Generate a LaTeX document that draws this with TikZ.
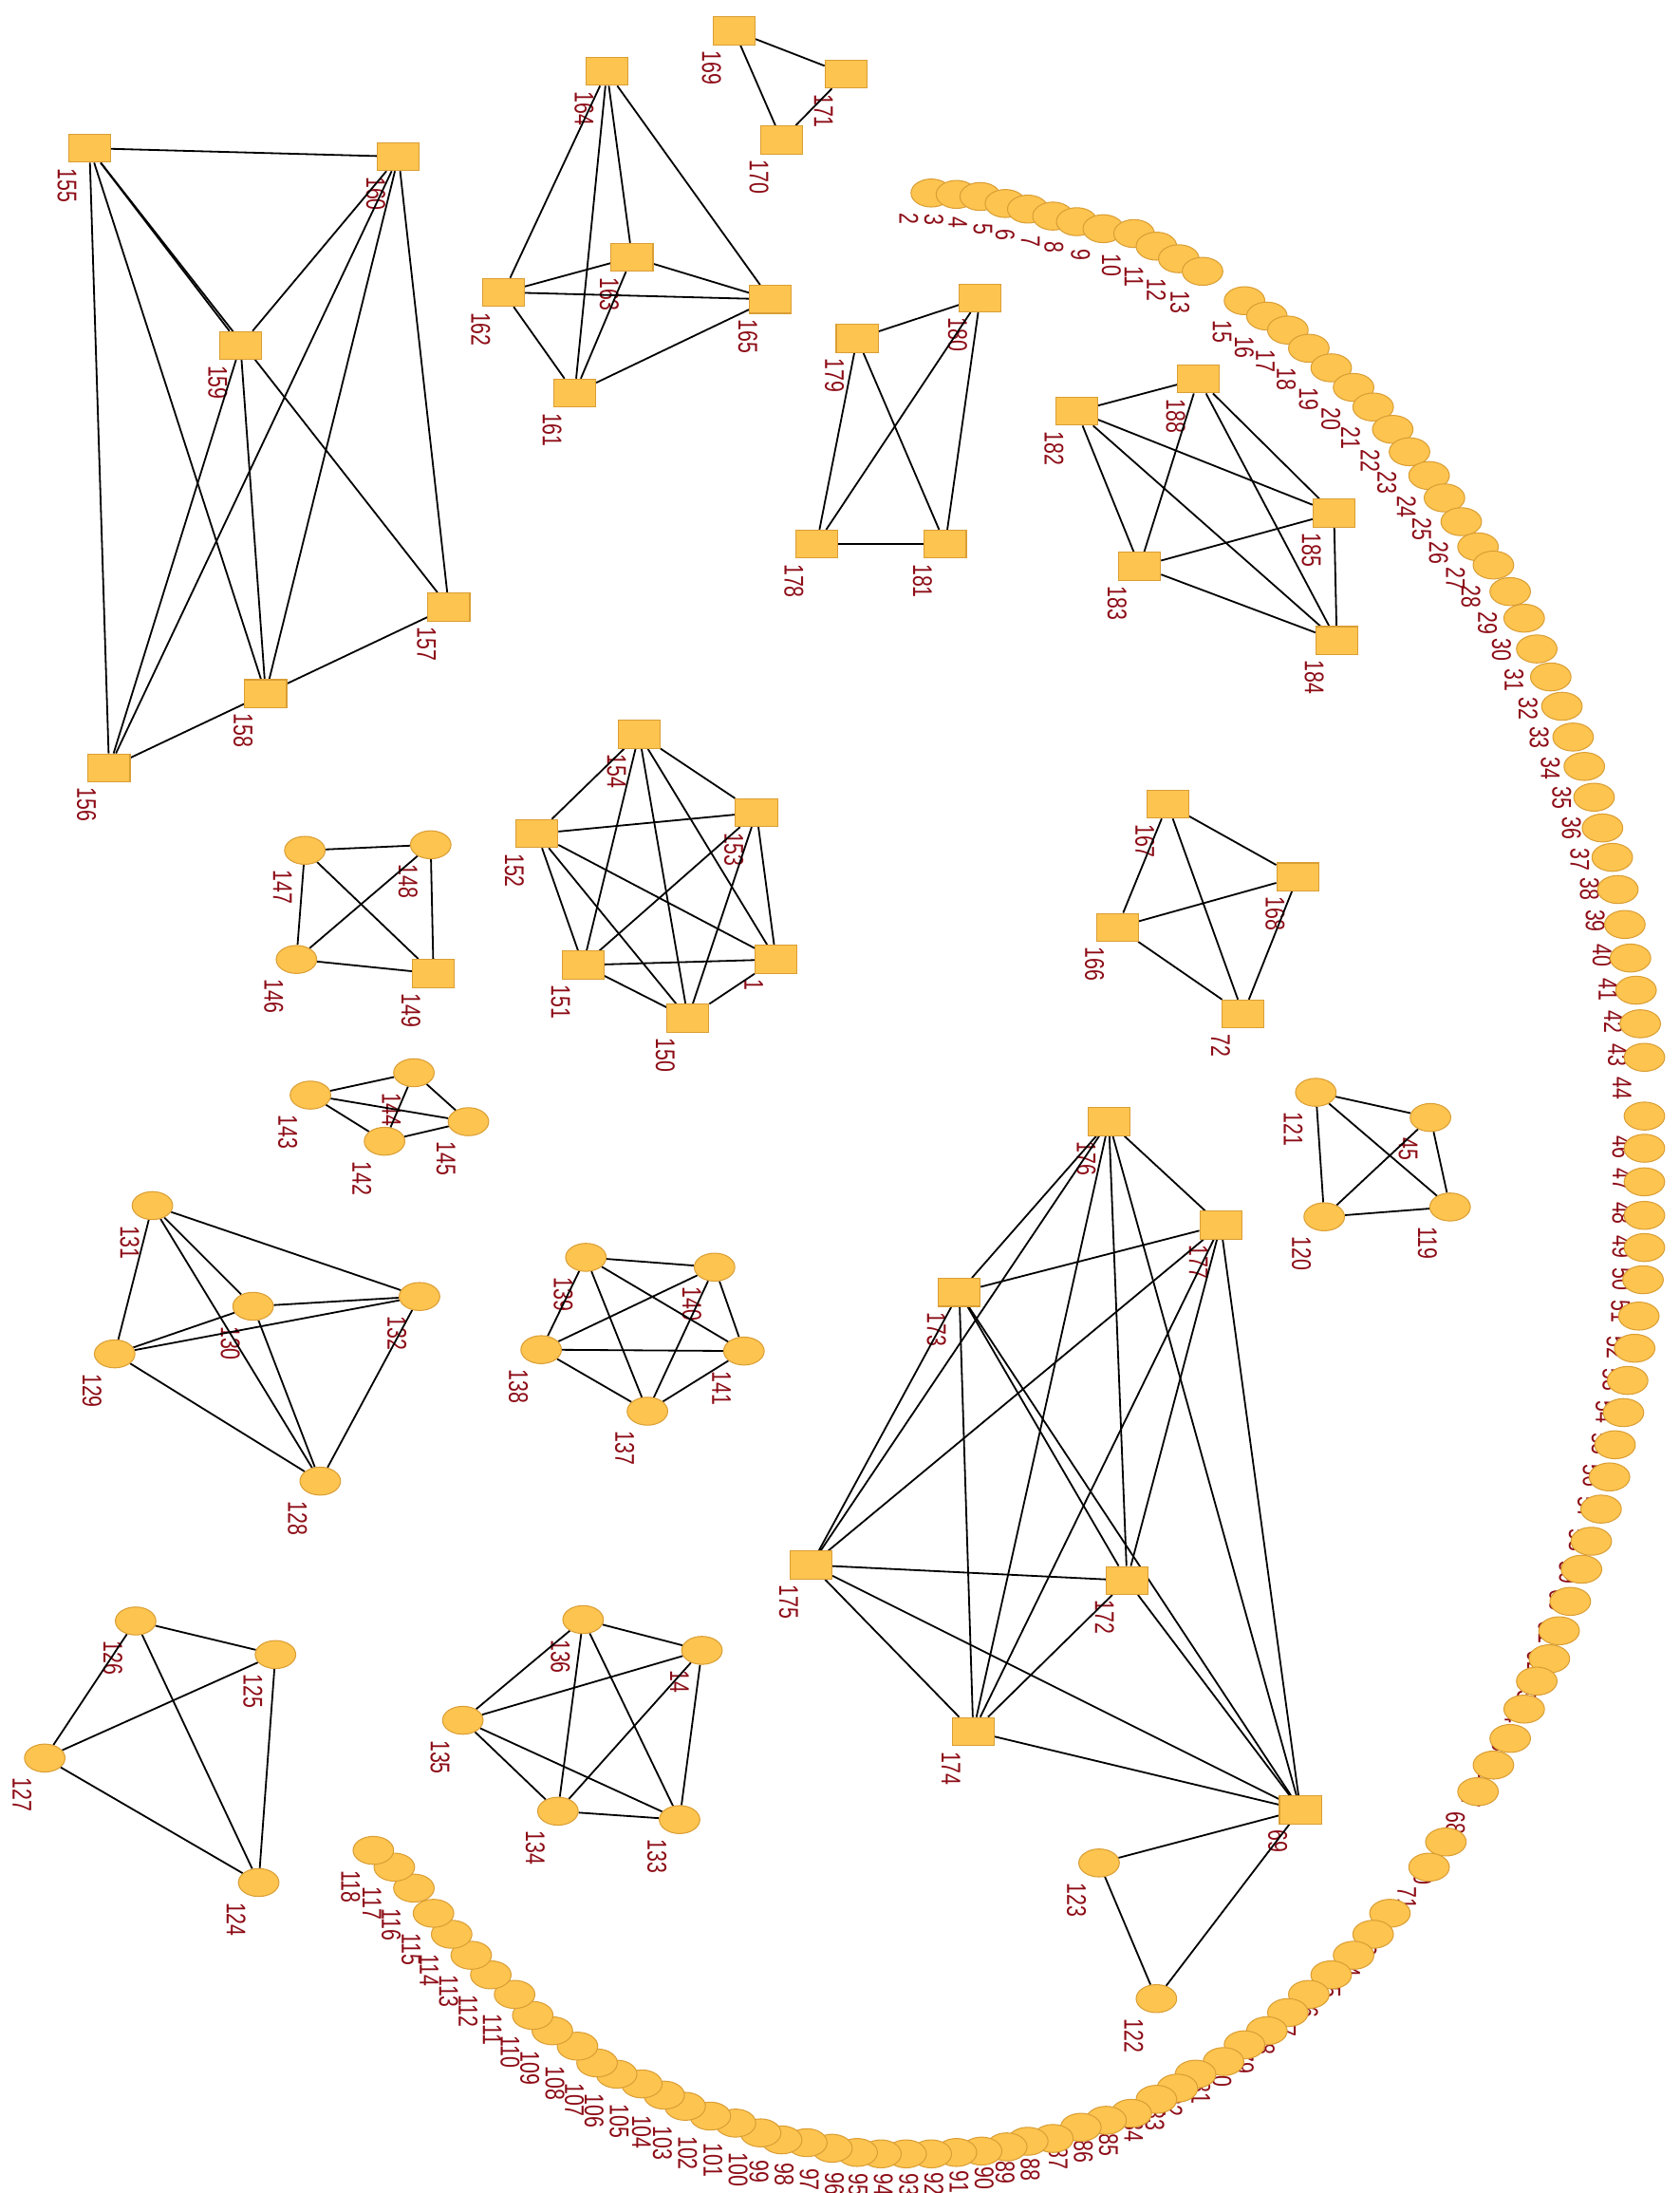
\documentclass[tikz,border=0pt]{standalone}
\usepackage{fontspec}
\usepackage{tikz,xcolor}
\usetikzlibrary{shapes.geometric}
\newfontfamily\labfont[FakeStretch=0.75]{Liberation Sans}
\definecolor{nodefill}{RGB}{253,196,80}
\definecolor{nodeline}{RGB}{218,158,52}
\definecolor{labred}{RGB}{140,12,22}
\pgfdeclarelayer{lab}
\pgfdeclarelayer{edges}
\pgfsetlayers{lab,edges,main}
\tikzset{
  sq/.style={rectangle,draw=nodeline,fill=nodefill,minimum width=6mm,minimum height=4mm,inner sep=0pt},
  oval/.style={ellipse,draw=nodeline,fill=nodefill,minimum width=5.8mm,minimum height=4mm,inner sep=0pt},
  lab/.style={rotate=-90,anchor=north west,inner sep=0pt,text=labred,font=\labfont\fontsize{11}{11}\selectfont},
  link/.style={line width=0.7pt}
}
\NewDocumentCommand\vx{mmmm}{%
  \node[#4] (n#1) at (#2,#3) {};
  \begin{pgfonlayer}{lab}\node[lab] at ([shift={(-9,14)}]n#1.center) {#1};\end{pgfonlayer}}

\begin{document}
\begin{tikzpicture}[x=0.02cm,y=-0.02cm]
        \useasboundingbox (0,0) rectangle (1201,1568);
        \vx{155}{64}{106}{sq} \vx{160}{285}{112}{sq} \vx{159}{172}{247}{sq}
        \vx{157}{321}{434}{sq} \vx{158}{190}{496}{sq} \vx{156}{78}{549}{sq}
        \vx{164}{434}{51}{sq} \vx{163}{452}{184}{sq} \vx{162}{360}{209}{sq}
        \vx{165}{551}{214}{sq} \vx{161}{411}{281}{sq}
        \vx{169}{525}{22}{sq} \vx{171}{605}{53}{sq} \vx{170}{559}{100}{sq}
        \vx{179}{613}{242}{sq} \vx{180}{701}{213}{sq} \vx{178}{584}{389}{sq} \vx{181}{676}{389}{sq}
        \vx{182}{770}{294}{sq} \vx{188}{857}{271}{sq} \vx{185}{954}{367}{sq}
        \vx{183}{815}{405}{sq} \vx{184}{956}{458}{sq}
        \vx{154}{457}{525}{sq} \vx{152}{384}{596}{sq} \vx{153}{541}{581}{sq}
        \vx{151}{417}{690}{sq} \vx{1}{555}{686}{sq} \vx{150}{492}{728}{sq}
        \vx{147}{218}{608}{oval} \vx{148}{308}{604}{oval} \vx{146}{212}{686}{oval} \vx{149}{310}{696}{sq}
        \vx{143}{222}{783}{oval} \vx{144}{296}{767}{oval} \vx{145}{335}{802}{oval} \vx{142}{275}{816}{oval}
        \vx{131}{109}{862}{oval} \vx{130}{181}{934}{oval} \vx{132}{300}{927}{oval}
        \vx{129}{82}{968}{oval} \vx{128}{229}{1059}{oval}
        \vx{139}{419}{899}{oval} \vx{140}{511}{906}{oval} \vx{141}{532}{966}{oval}
        \vx{138}{387}{965}{oval} \vx{137}{463}{1009}{oval}
        \vx{126}{97}{1159}{oval} \vx{125}{197}{1183}{oval} \vx{127}{32}{1257}{oval} \vx{124}{185}{1346}{oval}
        \vx{136}{417}{1158}{oval} \vx{14}{502}{1180}{oval} \vx{135}{331}{1230}{oval}
        \vx{134}{399}{1295}{oval} \vx{133}{486}{1301}{oval}
        \vx{176}{793}{802}{sq} \vx{177}{873}{876}{sq} \vx{173}{686}{924}{sq} \vx{175}{580}{1119}{sq}
        \vx{172}{806}{1130}{sq} \vx{174}{696}{1238}{sq} \vx{69}{930}{1294}{sq}
        \vx{167}{835}{575}{sq} \vx{168}{928}{627}{sq} \vx{166}{799}{663}{sq} \vx{72}{889}{725}{sq}
        \vx{121}{941}{781}{oval} \vx{45}{1023}{799}{oval} \vx{120}{947}{870}{oval} \vx{119}{1037}{863}{oval}
        \vx{123}{786}{1332}{oval} \vx{122}{827}{1429}{oval}
        \foreach \n/\x/\y in {2/666/138,3/684/139,4/701/140.5,5/719/145.5,6/735/149.5,7/753/154.5,
            8/770/158.5,9/789/163.5,10/811/167,11/827/176,12/843/185,13/860/194,
            15/890/215,16/906/226,17/921/236,18/936/249,19/952/263,20/968/277,21/982/291,
            22/996/307,23/1008/323,24/1022/340,25/1033/356,26/1045/373,27/1057/391,28/1068/404,
            29/1080/423,30/1090/442,31/1099/464,32/1109/484,33/1117/505,34/1125/527,35/1133/548,
            36/1140/570,37/1146/592,38/1153/613,39/1157/636,40/1162/661,41/1166/685,42/1170/708,
            43/1173/732,44/1176/756,
            46/1176/798,47/1176/821,48/1176/845,49/1176/869,50/1176/892,51/1175/915,52/1172/941,
            53/1169/964,54/1164/987,55/1161/1010,56/1155/1033,57/1151/1056,58/1145/1079,
            59/1138/1102,60/1131/1122,61/1123/1145,62/1115/1166,63/1108/1186,64/1099/1202,
            65/1090/1222,66/1080/1243,67/1068/1262,68/1057/1281,70/1034/1317,71/1022/1335,
            73/994/1368,74/982/1383,75/968/1398,76/952/1412,77/936/1426,78/921/1439,79/906/1452,
            80/890/1462,81/875/1474,82/855/1483,83/842/1493,84/827/1501,85/809/1511,86/791/1516,
            87/773/1521,88/753/1529,89/735/1531,90/720/1535,91/702/1538,92/684/1539,93/666/1540,
            94/648/1540,95/630/1540,96/613/1539,97/595/1536,98/577/1532,99/559/1530,100/544/1525,
            101/526/1518,102/508/1513,103/490/1506,104/475/1498,105/459/1490,106/441/1483,
            107/427/1475,108/413/1463,109/395/1452,110/381/1441,111/368/1426,112/351/1412,
            113/337/1398,114/323/1383,115/310/1368,116/296/1350,117/282/1335,118/267/1323}
            \vx{\n}{\x}{\y}{oval};
        \begin{pgfonlayer}{edges}
        \foreach \a/\b in {155/160,155/156,155/158,155/159,155/157,160/159,160/156,160/158,160/157,
            159/158,159/156,158/157,158/156,
            164/162,164/161,164/163,164/165,162/163,162/165,162/161,163/161,163/165,165/161,
            169/171,169/170,171/170,
            179/180,179/178,179/181,180/178,180/181,178/181,
            182/188,182/183,182/185,182/184,188/183,188/185,188/184,183/185,183/184,185/184,
            154/152,154/153,154/151,154/150,154/1,153/152,153/151,153/150,153/1,
            152/151,152/150,152/1,151/150,151/1,150/1,
            147/148,147/146,147/149,148/146,148/149,146/149,
            143/144,143/142,143/145,144/145,144/142,142/145,
            131/129,131/130,131/128,131/132,130/132,130/129,130/128,129/132,129/128,132/128,
            139/140,139/141,139/137,139/138,140/138,140/137,140/141,138/141,138/137,137/141,
            126/125,126/127,126/124,125/127,125/124,127/124,
            136/14,136/135,136/134,136/133,14/135,14/134,14/133,135/134,135/133,134/133,
            176/177,176/173,176/175,176/172,176/174,176/69,177/173,177/175,177/172,177/174,177/69,
            173/175,173/172,173/174,173/69,175/172,175/174,175/69,172/174,172/69,174/69,
            167/168,167/166,167/72,166/168,166/72,168/72,
            121/45,121/120,121/119,45/120,45/119,120/119,
            123/122,123/69,122/69}
            \draw[link] (n\a) -- (n\b);
        \end{pgfonlayer}
\end{tikzpicture}
\end{document}
